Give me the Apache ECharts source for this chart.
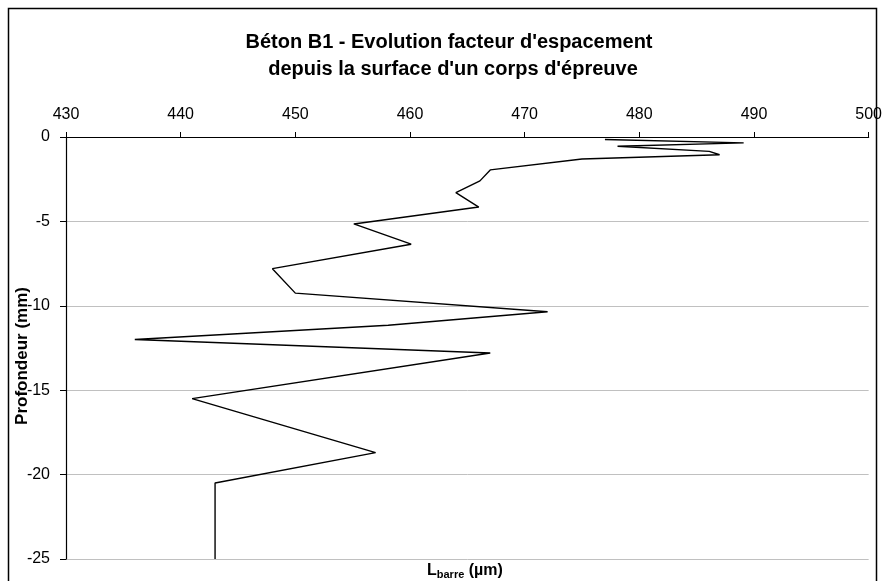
<!DOCTYPE html>
<html>
<head>
<meta charset="utf-8">
<script src="https://cdn.jsdelivr.net/npm/echarts@6/dist/echarts.min.js"></script>
<style>
  html, body { margin: 0; padding: 0; background: #fff; }
  #main { width: 885px; height: 581px; }
</style>
</head>
<body>
<div id="main"></div>
<script>
// profondeur (mm) et L barre (µm)
var profondeur = [-0.15, -0.35, -0.55, -0.85, -1.05, -1.3, -1.95, -2.6, -3.3, -4.15,
  -5.15, -6.35, -7.8, -9.25, -10.35, -11.15, -12.0, -12.8, -15.5, -18.7, -20.5, -25];
var lBarre = [477.0, 489.1, 478.1, 486.1, 487.0, 475.0, 467.0, 466.1, 464.0, 466.0,
  455.1, 460.1, 448.0, 450.0, 472.0, 458.1, 436.0, 467.0, 441.0, 457.0, 443.0, 443.0];
var xTicks = [430, 440, 450, 460, 470, 480, 490, 500];
var yTicks = [0, -5, -10, -15, -20, -25];

var points = profondeur.map(function (p, i) { return [lBarre[i], p]; });

var font = 'Liberation Sans, Arial, sans-serif';

var myChart = echarts.init(document.getElementById('main'));
myChart.setOption({
  animation: false,
  backgroundColor: '#fff',
  textStyle: { fontFamily: font },
  title: {
    // titre de l'axe x, en bas
    text: '{l|L}{s|barre}{l| (µm)}',
    left: 427,
    top: 562,
    padding: 0,
    textStyle: {
      rich: {
        l: { fontSize: 16, fontWeight: 'bold', color: '#000', fontFamily: font },
        s: { fontSize: 11, fontWeight: 'bold', color: '#000', verticalAlign: 'bottom', padding: [7, 0, 0, 0], fontFamily: font }
      }
    }
  },
  graphic: [
    { // cadre
      type: 'rect',
      shape: { x: 8.5, y: 8.5, width: 868, height: 620 },
      style: { fill: 'none', stroke: '#000', lineWidth: 1.5 },
      silent: true
    },
    {
      type: 'text',
      x: 449, y: 42,
      style: {
        text: "Béton B1 - Evolution facteur d'espacement",
        fill: '#000', font: 'bold 20px ' + font,
        textAlign: 'center', textVerticalAlign: 'middle'
      }
    },
    {
      type: 'text',
      x: 453, y: 69,
      style: {
        text: "depuis la surface d'un corps d'épreuve",
        fill: '#000', font: 'bold 20px ' + font,
        textAlign: 'center', textVerticalAlign: 'middle'
      }
    },
    { // titre de l'axe y
      type: 'text',
      x: 22, y: 356,
      rotation: Math.PI / 2,
      style: {
        text: 'Profondeur (mm)',
        fill: '#000', font: 'bold 17px ' + font,
        textAlign: 'center', textVerticalAlign: 'middle'
      }
    }
  ],
  grid: { // zone de tracé
    left: 66,
    right: 16,
    top: 137,
    bottom: 22
  },
  xAxis: {
    type: 'value',
    position: 'top',
    min: xTicks[0],
    max: xTicks[xTicks.length - 1],
    interval: 10,
    axisLine: { show: true, onZero: false, lineStyle: { color: '#000', width: 1.2 } },
    axisTick: { show: true, length: 5, lineStyle: { color: '#000', width: 1 } },
    axisLabel: { color: '#000', fontSize: 16, margin: 14 },
    splitLine: { show: false }
  },
  yAxis: {
    type: 'value',
    min: yTicks[yTicks.length - 1],
    max: yTicks[0],
    interval: 5,
    axisLine: { show: true, onZero: false, lineStyle: { color: '#000', width: 1.2 } },
    axisTick: { show: true, length: 6, lineStyle: { color: '#000', width: 1 } },
    axisLabel: { color: '#000', fontSize: 16, margin: 16 },
    splitLine: { show: true, lineStyle: { color: '#c0c0c0', width: 1 } }
  },
  series: [
    {
      type: 'line',
      data: points,
      showSymbol: false,
      symbol: 'none',
      lineStyle: { color: '#000', width: 1.4 }
    }
  ]
});
</script>
</body>
</html>
